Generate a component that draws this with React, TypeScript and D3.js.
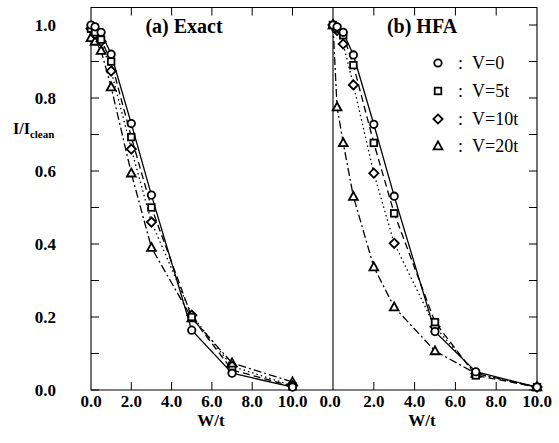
import React from "react";
import * as d3 from "d3";

const W = [0, 0.2, 0.5, 1, 2, 3, 5, 7, 10];

const exactV0 = [1.0, 0.995, 0.98, 0.92, 0.73, 0.534, 0.164, 0.046, 0.008];
const exactV5 = [0.99, 0.98, 0.96, 0.9, 0.693, 0.5, 0.2, 0.055, 0.01];
const exactV10 = [0.99, 0.975, 0.955, 0.874, 0.66, 0.46, 0.205, 0.065, 0.012];
const exactV20 = [0.965, 0.955, 0.93, 0.83, 0.594, 0.39, 0.197, 0.074, 0.022];

const hfaV0 = [1.0, 0.995, 0.98, 0.918, 0.728, 0.531, 0.16, 0.05, 0.008];
const hfaV5 = [1.0, 0.99, 0.972, 0.89, 0.677, 0.484, 0.186, 0.04, 0.008];
const hfaV10 = [1.0, 0.985, 0.948, 0.836, 0.594, 0.402, 0.173, 0.045, 0.008];
const hfaV20 = [1.0, 0.775, 0.677, 0.53, 0.337, 0.227, 0.107, 0.045, 0.008];

const seriesNames = ["V=0", "V=5t", "V=10t", "V=20t"];
const seriesSymbols = ["circle", "square", "diamond", "triangle"];
const seriesDash = ["none", "7,4", "1.5,3", "8,3,2,3"];

const xTickValues = [0, 2, 4, 6, 8, 10];
const yTickValues = [0, 0.2, 0.4, 0.6, 0.8, 1.0];
const yMinorTicks = [0, 0.1, 0.2, 0.3, 0.4, 0.5, 0.6, 0.7, 0.8, 0.9, 1.0];

const FONT = '"Liberation Serif", serif';

const top = 7.5;
const bottom = 390;
const leftX0 = 91;
const midX = 333;
const rightX1 = 537;

const y = d3.scaleLinear().domain([0, 1.048]).range([bottom, top]);
const xL = d3.scaleLinear().domain([0, 10]).range([leftX0, 292.5]);
const xR = d3.scaleLinear().domain([0, 10]).range([midX, rightX1]);

function T(props: any) {
  const { children, ...rest } = props;
  return (
    <text fontFamily={FONT} style={{ fontFamily: FONT }} {...rest}>
      {children}
    </text>
  );
}

function Marker({ type, cx, cy }: { type: string; cx: number; cy: number }) {
  const sw = 1.8;
  if (type === "circle")
    return <circle cx={cx} cy={cy} r={3.7} fill="white" stroke="black" strokeWidth={sw} />;
  if (type === "square")
    return <rect x={cx - 3.3} y={cy - 3.3} width={6.6} height={6.6} fill="white" stroke="black" strokeWidth={sw} />;
  if (type === "diamond")
    return (
      <path
        d={`M${cx},${cy - 4.6}L${cx + 4.6},${cy}L${cx},${cy + 4.6}L${cx - 4.6},${cy}Z`}
        fill="white"
        stroke="black"
        strokeWidth={sw}
      />
    );
  return (
    <path
      d={`M${cx},${cy - 4.6}L${cx + 4.4},${cy + 3.3}L${cx - 4.4},${cy + 3.3}Z`}
      fill="white"
      stroke="black"
      strokeWidth={sw}
    />
  );
}

function Panel({ x, data }: { x: d3.ScaleLinear<number, number>; data: number[][] }) {
  const line = d3
    .line<number>()
    .x((_, i) => x(W[i]))
    .y((d) => y(d));
  return (
    <g>
      {data.map((s, k) => (
        <path
          key={"l" + k}
          d={line(s) || ""}
          fill="none"
          stroke="black"
          strokeWidth={1.3}
          strokeDasharray={seriesDash[k] === "none" ? undefined : seriesDash[k]}
        />
      ))}
      {data
        .slice()
        .reverse()
        .map((s, kk) => {
          const k = data.length - 1 - kk;
          return s.map((v, i) => (
            <Marker key={"m" + k + "-" + i} type={seriesSymbols[k]} cx={x(W[i])} cy={y(v)} />
          ));
        })}
    </g>
  );
}

export default function App() {
  const tickLen = 8;
  const legendY = [63, 91, 119, 146];
  const yTop = y(1.048);
  return (
    <svg
      width={559}
      height={443}
      style={{ position: "absolute", left: 0, top: 0, background: "white" }}
    >
      <rect x={0} y={0} width={559} height={443} fill="white" />
      <path
        d={`M${leftX0},${yTop}H${rightX1}V${bottom}H${leftX0}Z M${midX},${yTop}V${bottom}`}
        fill="none"
        stroke="black"
        strokeWidth={1.1}
      />

      {yMinorTicks.map((t) => (
        <line key={"yl" + t} x1={leftX0} x2={leftX0 + tickLen} y1={y(t)} y2={y(t)} stroke="black" strokeWidth={1} />
      ))}
      {yMinorTicks.map((t) => (
        <line key={"yr" + t} x1={rightX1} x2={rightX1 - tickLen} y1={y(t)} y2={y(t)} stroke="black" strokeWidth={1} />
      ))}
      {yTickValues.map((t) => (
        <T key={"yt" + t} x={56} y={y(t)} dy="0.35em" textAnchor="end" fontSize={17} fontWeight="bold">
          {t.toFixed(1)}
        </T>
      ))}

      {xTickValues.filter((t) => t > 0).map((t) => (
        <g key={"xl" + t}>
          <line x1={xL(t)} x2={xL(t)} y1={bottom} y2={bottom - tickLen} stroke="black" strokeWidth={1} />
          <line x1={xL(t)} x2={xL(t)} y1={yTop} y2={yTop + tickLen} stroke="black" strokeWidth={1} />
        </g>
      ))}
      {xTickValues.filter((t) => t > 0 && t < 10).map((t) => (
        <g key={"xr" + t}>
          <line x1={xR(t)} x2={xR(t)} y1={bottom} y2={bottom - tickLen} stroke="black" strokeWidth={1} />
          <line x1={xR(t)} x2={xR(t)} y1={yTop} y2={yTop + tickLen} stroke="black" strokeWidth={1} />
        </g>
      ))}
      {xTickValues.map((t) => (
        <T key={"xtl" + t} x={xL(t)} y={407} textAnchor="middle" fontSize={17} fontWeight="bold">
          {t.toFixed(1)}
        </T>
      ))}
      {xTickValues.map((t) => (
        <T key={"xtr" + t} x={xR(t) - (t === 0 ? 3 : 0)} y={407} textAnchor="middle" fontSize={17} fontWeight="bold">
          {t.toFixed(1)}
        </T>
      ))}

      <T x={211} y={426} textAnchor="middle" fontSize={17} fontWeight="bold">W/t</T>
      <T x={422} y={426} textAnchor="middle" fontSize={17} fontWeight="bold">W/t</T>
      <T x={13} y={134} fontSize={16} fontWeight="bold">
        I/I<tspan fontSize={11} dy={4}>clean</tspan>
      </T>

      <T x={184} y={33} textAnchor="middle" fontSize={20} fontWeight="bold">(a) Exact</T>
      <T x={422} y={33} textAnchor="middle" fontSize={20} fontWeight="bold">(b) HFA</T>

      <Panel x={xL} data={[exactV0, exactV5, exactV10, exactV20]} />
      <Panel x={xR} data={[hfaV0, hfaV5, hfaV10, hfaV20]} />

      {seriesNames.map((n, i) => (
        <g key={"lg" + i}>
          <Marker type={seriesSymbols[i]} cx={438} cy={legendY[i]} />
          <T x={458} y={legendY[i] + 6} fontSize={18}>:</T>
          <T x={472} y={legendY[i] + 6} fontSize={18}>{n}</T>
        </g>
      ))}
    </svg>
  );
}
